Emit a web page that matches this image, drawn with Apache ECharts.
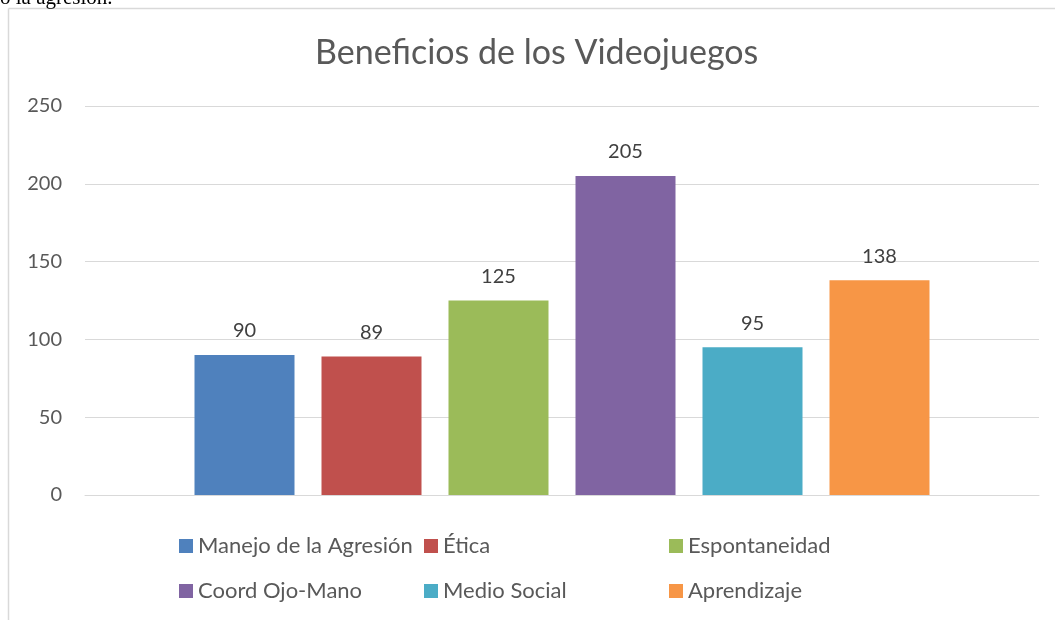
<!DOCTYPE html>
<html>
<head>
<meta charset="utf-8">
<script src="https://cdn.jsdelivr.net/npm/echarts@6/dist/echarts.min.js"></script>
<style>
html,body{margin:0;padding:0;background:#fff;}
#chart{width:1055px;height:620px;}
</style>
</head>
<body>
<div id="chart"></div>
<script>
const titleText = 'Beneficios de los Videojuegos';
const seriesNames = ['Manejo de la Agresión', 'Ética', 'Espontaneidad', 'Coord Ojo-Mano', 'Medio Social', 'Aprendizaje'];
const seriesValues = [90, 89, 125, 205, 95, 138];
const seriesColors = ['#4F81BD', '#C0504D', '#9BBB59', '#8064A2', '#4BACC6', '#F79646'];
const yTicks = [0, 50, 100, 150, 200, 250];

const FONT = 'Lato';
const chart = echarts.init(document.getElementById('chart'), null, {renderer: 'canvas'});

const legendPos = [
  [179, 535], [424, 535], [669, 535],
  [179, 580], [424, 580], [669, 580]
];

const option = {
  animation: false,
  backgroundColor: '#ffffff',
  title: {
    text: titleText,
    left: 315,
    top: 36,
    padding: 0,
    textStyle: {fontFamily: FONT, fontSize: 34, fontWeight: 'normal', color: '#595959'}
  },
  legend: seriesNames.map((n, i) => ({
    data: [n],
    left: legendPos[i][0],
    top: legendPos[i][1],
    padding: 0,
    icon: 'rect',
    itemWidth: 14,
    itemHeight: 14,
    itemGap: 0,
    textStyle: {fontFamily: FONT, fontSize: 22, color: '#595959', padding: [0, 0, 0, 0]},
    selectedMode: false
  })),
  grid: {left: 85, right: 16, top: 106, bottom: 125, containLabel: false},
  xAxis: {
    type: 'category',
    data: [''],
    axisLine: {show: true, lineStyle: {color: '#d9d9d9', width: 1}},
    axisTick: {show: false},
    axisLabel: {show: false}
  },
  yAxis: {
    type: 'value',
    min: yTicks[0],
    max: yTicks[yTicks.length - 1],
    interval: yTicks[1] - yTicks[0],
    axisLine: {show: false},
    axisTick: {show: false},
    splitLine: {lineStyle: {color: '#d9d9d9', width: 1}},
    axisLabel: {fontFamily: FONT, fontSize: 20, color: '#595959', margin: 23}
  },
  series: seriesNames.map((n, i) => ({
    name: n,
    type: 'bar',
    data: [seriesValues[i]],
    barWidth: 100,
    barGap: '27%',
    itemStyle: {color: seriesColors[i]},
    label: {show: true, position: 'top', distance: 14, fontFamily: FONT, fontSize: 20, color: '#404040'}
  })),
  graphic: [
    {type: 'line', shape: {x1: 8.5, y1: 8.5, x2: 1055, y2: 8.5}, style: {stroke: '#d9d9d9', lineWidth: 1.5}},
    {type: 'line', shape: {x1: 8.5, y1: 8.5, x2: 8.5, y2: 620}, style: {stroke: '#d9d9d9', lineWidth: 1.5}},
    {type: 'text', left: 0, top: -12, style: {text: 'o la agresión.', font: '21px "Liberation Serif"', fill: '#000'}}
  ]
};
chart.setOption(option);
</script>
</body>
</html>
